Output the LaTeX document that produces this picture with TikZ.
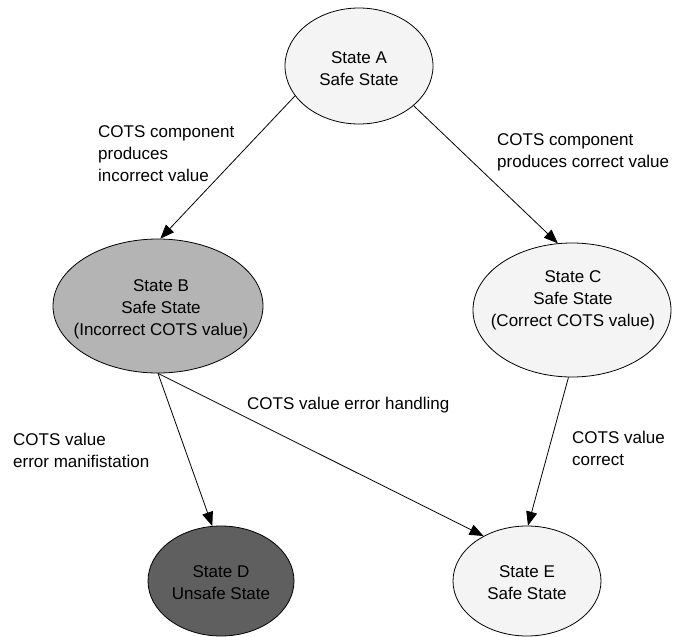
\documentclass[tikz,border=0pt]{standalone}
\usepackage{fontspec}
\setmainfont{Liberation Sans}
\usetikzlibrary{arrows.meta,shapes.geometric}

\definecolor{paleFill}{HTML}{F4F4F4}
\definecolor{midFill}{HTML}{B4B4B4}
\definecolor{darkFill}{HTML}{5F5F5F}

\begin{document}
\begin{tikzpicture}[x=1pt,y=1pt,
  every node/.style={font=\fontsize{17}{22}\selectfont},
  % the ellipse keeps its given size; its text sits on it as a centred label
  statenode/.style 2 args={ellipse, draw=black, line width=0.8pt, inner sep=0pt,
    minimum width=#1, minimum height=#2},
  statetext/.style={align=center, inner sep=0pt},
  edgelabel/.style={anchor=west, align=left, inner sep=0pt},
  trans/.style={draw=black, line width=0.8pt, -{Triangle[length=14pt,width=11pt]}}
]
\useasboundingbox (0,0) rectangle (673,-637);

% states
\node[statenode={148}{116}, fill=paleFill] (A) at (359,-66) {};
\node[statenode={210}{134}, fill=midFill] (B) at (158,-306) {};
\node[statenode={198}{134}, fill=paleFill] (C) at (572,-310) {};
\node[statenode={146}{110}, fill=darkFill] (D) at (221,-581) {};
\node[statenode={148}{110}, fill=paleFill] (E) at (527,-581) {};

\node[statetext] (tA) at ([yshift=-3]A.center) {State A\\Safe State};
\node[statetext] (tB) at ([xshift=3,yshift=-3]B.center) {State B\\Safe State\\(Incorrect COTS value)};
\node[statetext] (tC) at ([xshift=1,yshift=10]C.center) {State C\\Safe State\\(Correct COTS value)};
\node[statetext] (tD) at ([yshift=-2]D.center) {State D\\Unsafe State};
\node[statetext] (tE) at ([yshift=-2]E.center) {State E\\Safe State};

% transitions
\draw[trans] (A.205) -- (B.88);
\draw[trans] (A.324) -- (C.102);
\draw[trans] (B.270) -- (D.99);
\draw[trans] (B.270) -- (E.134);
\draw[trans] (C.267) -- (E.89);

% transition labels
\node[edgelabel] (lAB) at (98,-154) {COTS component\\produces\\incorrect value};
\node[edgelabel] (lAC) at (497,-152.5) {COTS component\\produces correct value};
\node[edgelabel] (lBE) at (247,-405) {COTS value error handling};
\node[edgelabel] (lBD) at (13,-450) {COTS value\\error manifistation};
\node[edgelabel] (lCE) at (572,-448) {COTS value\\correct};
\end{tikzpicture}
\end{document}
